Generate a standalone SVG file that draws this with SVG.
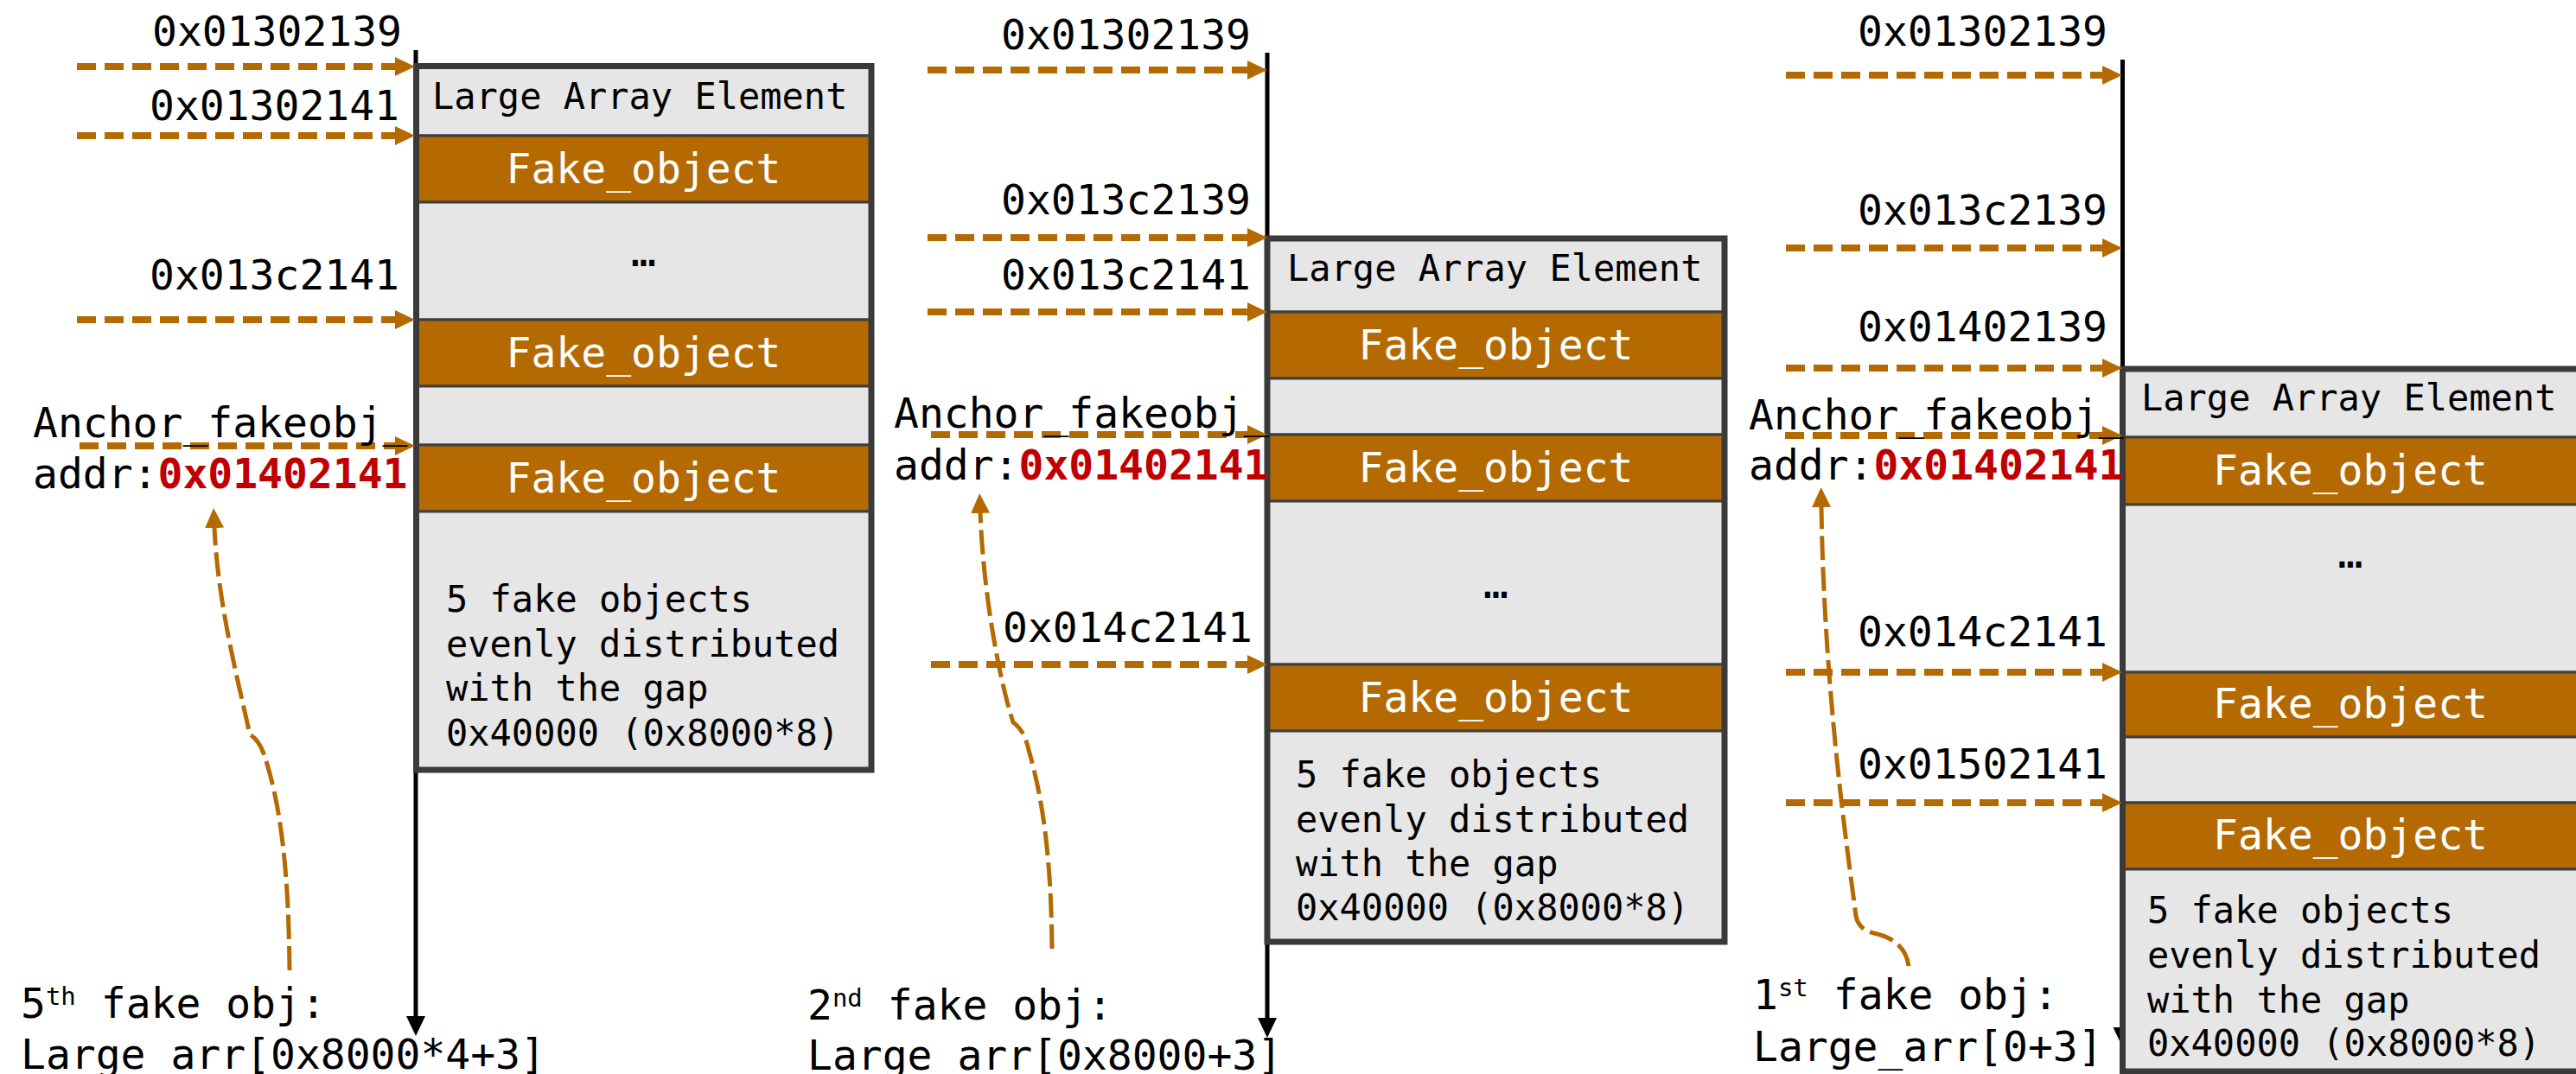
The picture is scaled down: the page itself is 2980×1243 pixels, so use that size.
<svg xmlns="http://www.w3.org/2000/svg" width="2980" height="1243" viewBox="0 0 2980 1243">
<defs>
<style>
text{font-family:"DejaVu Sans Mono","Liberation Mono",monospace;fill:#000}
.addr{font-size:48px;text-anchor:end}
.lbl{font-size:48px}
.hdr{font-size:42px}
.body{font-size:42px}
.fo{font-size:48px;fill:#fff;text-anchor:middle}
.ell{font-size:48px;text-anchor:middle}
.red{font-weight:bold;fill:#c00000}
.sup{font-size:29px}
.gray{fill:#e7e6e6;stroke:#3f3f3f;stroke-width:3}
.orange{fill:#b46a00;stroke:#3f3f3f;stroke-width:3}
.frame{fill:none;stroke:#3a3a3a;stroke-width:7}
.dash{fill:none;stroke:#b46a00;stroke-width:8;stroke-dasharray:22 10;marker-end:url(#oa)}
.curve{fill:none;stroke:#b46a00;stroke-width:5;stroke-dasharray:28 8;marker-end:url(#oa)}
.axis{fill:none;stroke:#000;stroke-width:5;marker-end:url(#ba)}
</style>
<marker id="oa" markerUnits="userSpaceOnUse" markerWidth="24" markerHeight="24" viewBox="0 0 24 24" refX="1" refY="12" orient="auto"><path d="M0,1 L23,12 L0,23 z" fill="#b46a00"/></marker>
<marker id="ba" markerUnits="userSpaceOnUse" markerWidth="24" markerHeight="24" viewBox="0 0 24 24" refX="1" refY="12" orient="auto"><path d="M0,1 L23,12 L0,23 z" fill="#000"/></marker>
</defs>
<rect width="2980" height="1243" fill="#fff"/>

<!-- Panel 1 -->
<g id="axis1"><line class="axis" x1="481" y1="58" x2="481" y2="1177"/></g>
<g id="box1">
<rect class="gray" x="481.5" y="76.5" width="526.5" height="80.5"/>
<rect class="orange" x="481.5" y="157" width="526.5" height="77"/>
<rect class="gray" x="481.5" y="234" width="526.5" height="136"/>
<rect class="orange" x="481.5" y="370" width="526.5" height="77"/>
<rect class="gray" x="481.5" y="447" width="526.5" height="68"/>
<rect class="orange" x="481.5" y="515" width="526.5" height="77"/>
<rect class="gray" x="481.5" y="592" width="526.5" height="299"/>
<rect class="frame" x="481.5" y="76.5" width="526.5" height="814.5"/>
<text class="hdr" x="500" y="126">Large Array Element</text>
<text class="fo" x="744.5" y="212">Fake_object</text>
<text class="ell" x="744.5" y="308">…</text>
<text class="fo" x="744.5" y="425">Fake_object</text>
<text class="fo" x="744.5" y="570">Fake_object</text>
<text class="body" x="516" y="708">5 fake objects</text>
<text class="body" x="516" y="760">evenly distributed</text>
<text class="body" x="516" y="811">with the gap</text>
<text class="body" x="516" y="863">0x40000 (0x8000*8)</text>
</g>

<!-- Panel 2 -->
<g id="axis2"><line class="axis" x1="1466" y1="61" x2="1466" y2="1179"/></g>
<g id="box2">
<rect class="gray" x="1466" y="276" width="529" height="85"/>
<rect class="orange" x="1466" y="361" width="529" height="77"/>
<rect class="gray" x="1466" y="438" width="529" height="65"/>
<rect class="orange" x="1466" y="503" width="529" height="77"/>
<rect class="gray" x="1466" y="580" width="529" height="189"/>
<rect class="orange" x="1466" y="769" width="529" height="77"/>
<rect class="gray" x="1466" y="846" width="529" height="244"/>
<rect class="frame" x="1466" y="276" width="529" height="814"/>
<text class="hdr" x="1489" y="325">Large Array Element</text>
<text class="fo" x="1730.5" y="416">Fake_object</text>
<text class="fo" x="1730.5" y="558">Fake_object</text>
<text class="ell" x="1730.5" y="692">…</text>
<text class="fo" x="1730.5" y="824">Fake_object</text>
<text class="body" x="1499" y="911">5 fake objects</text>
<text class="body" x="1499" y="963">evenly distributed</text>
<text class="body" x="1499" y="1014">with the gap</text>
<text class="body" x="1499" y="1065">0x40000 (0x8000*8)</text>
</g>

<!-- Panel 3 -->
<g id="axis3"><line class="axis" x1="2455.5" y1="69" x2="2455.5" y2="1190"/></g>
<g id="box3">
<rect class="gray" x="2455.5" y="427" width="530" height="79"/>
<rect class="orange" x="2455.5" y="506" width="530" height="78"/>
<rect class="gray" x="2455.5" y="584" width="530" height="194"/>
<rect class="orange" x="2455.5" y="778" width="530" height="75"/>
<rect class="gray" x="2455.5" y="853" width="530" height="76"/>
<rect class="orange" x="2455.5" y="929" width="530" height="77"/>
<rect class="gray" x="2455.5" y="1006" width="530" height="234"/>
<rect class="frame" x="2455.5" y="427" width="530" height="813"/>
<text class="hdr" x="2477" y="475">Large Array Element</text>
<text class="fo" x="2719" y="561">Fake_object</text>
<text class="ell" x="2719" y="657">…</text>
<text class="fo" x="2719" y="831">Fake_object</text>
<text class="fo" x="2719" y="983">Fake_object</text>
<text class="body" x="2484" y="1068">5 fake objects</text>
<text class="body" x="2484" y="1120">evenly distributed</text>
<text class="body" x="2484" y="1172">with the gap</text>
<text class="body" x="2484" y="1222">0x40000 (0x8000*8)</text>
</g>

<!-- Connectors -->
<g id="connectors">
<line class="dash" x1="89" y1="77" x2="458" y2="77"/>
<line class="dash" x1="89" y1="157" x2="458" y2="157"/>
<line class="dash" x1="89" y1="370" x2="458" y2="370"/>
<line class="dash" x1="92" y1="516" x2="458" y2="516"/>
<path class="curve" d="M335 1123 C334 1010 325 930 305 872 Q299 856 289 850 C276 790 252 700 248 610"/>

<line class="dash" x1="1073" y1="81" x2="1444" y2="81"/>
<line class="dash" x1="1073" y1="275" x2="1444" y2="275"/>
<line class="dash" x1="1073" y1="361" x2="1444" y2="361"/>
<line class="dash" x1="1077" y1="503" x2="1444" y2="503"/>
<line class="dash" x1="1077" y1="769" x2="1444" y2="769"/>
<path class="curve" d="M1217 1098 C1216 1000 1208 930 1190 868 Q1185 845 1172 836 C1160 800 1138 700 1134 593"/>

<line class="dash" x1="2066" y1="87" x2="2433" y2="87"/>
<line class="dash" x1="2066" y1="287" x2="2433" y2="287"/>
<line class="dash" x1="2066" y1="426" x2="2433" y2="426"/>
<line class="dash" x1="2065" y1="504" x2="2433" y2="504"/>
<line class="dash" x1="2066" y1="778" x2="2433" y2="778"/>
<line class="dash" x1="2066" y1="929" x2="2433" y2="929"/>
<path class="curve" d="M2208 1118 Q2204 1088 2168 1080 Q2150 1076 2147 1060 C2138 990 2110 800 2107 586"/>
</g>

<!-- Labels -->
<g id="labels1">
<text class="addr" x="465" y="53">0x01302139</text>
<text class="addr" x="462" y="139">0x01302141</text>
<text class="addr" x="462" y="335">0x013c2141</text>
<text class="lbl" x="38" y="506">Anchor_fakeobj_</text>
<text class="lbl" x="38" y="565">addr:<tspan class="red">0x01402141</tspan></text>
<text class="lbl" x="24" y="1178">5<tspan class="sup" dy="-15">th</tspan><tspan dy="15"> fake obj:</tspan></text>
<text class="lbl" x="24" y="1237">Large_arr[0x8000*4+3]</text>
</g>
<g id="labels2">
<text class="addr" x="1447" y="57">0x01302139</text>
<text class="addr" x="1447" y="248">0x013c2139</text>
<text class="addr" x="1447" y="335">0x013c2141</text>
<text class="lbl" x="1034" y="495">Anchor_fakeobj_</text>
<text class="lbl" x="1034" y="555">addr:<tspan class="red">0x01402141</tspan></text>
<text class="addr" x="1449" y="743">0x014c2141</text>
<text class="lbl" x="934" y="1180">2<tspan class="sup" dy="-15">nd</tspan><tspan dy="15"> fake obj:</tspan></text>
<text class="lbl" x="934" y="1238">Large_arr[0x8000+3]</text>
</g>
<g id="labels3">
<text class="addr" x="2438" y="53">0x01302139</text>
<text class="addr" x="2438" y="260">0x013c2139</text>
<text class="addr" x="2438" y="395">0x01402139</text>
<text class="lbl" x="2023" y="497">Anchor_fakeobj_</text>
<text class="lbl" x="2023" y="555">addr:<tspan class="red">0x01402141</tspan></text>
<text class="addr" x="2438" y="748">0x014c2141</text>
<text class="addr" x="2438" y="901">0x01502141</text>
<text class="lbl" x="2028" y="1168">1<tspan class="sup" dy="-15">st</tspan><tspan dy="15"> fake obj:</tspan></text>
<text class="lbl" x="2028" y="1228">Large_arr[0+3]</text>
</g>
</svg>
